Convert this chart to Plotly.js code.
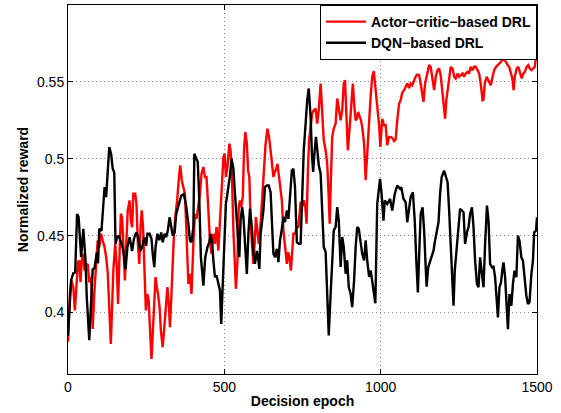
<!DOCTYPE html>
<html>
<head>
<meta charset="utf-8">
<script src="https://cdn.plot.ly/plotly-3.0.1.min.js"></script>
<style>html,body{margin:0;padding:0;background:#fff;}#chart{width:561px;height:413px;}</style>
</head>
<body>
<div id="chart"></div>
<script>
// Actor-critic-based DRL series
const epochAC = [0,6,11,17,22,28,32,36,40,44,49,53,58,63,68,74,79,84,90,95,100,106,111,117,122,127,132,137,141,145,151,156,160,164,169,173,177,182,186,191,197,201,205,209,215,219,223,228,232,236,240,245,249,254,258,263,267,271,276,280,284,288,293,297,303,309,314,318,323,326,330,334,339,344,349,355,359,364,370,374,379,385,390,395,401,406,411,417,422,427,433,438,443,449,454,459,465,470,475,481,486,491,497,501,505,510,516,520,525,529,533,537,542,546,550,554,559,563,567,572,576,580,584,589,593,597,601,606,610,614,619,623,627,632,638,643,648,653,657,661,666,670,674,678,684,689,694,700,704,708,713,717,721,726,732,737,744,749,754,759,763,767,771,776,781,786,792,797,802,808,813,818,824,829,833,837,841,845,850,856,861,866,872,877,882,886,890,895,901,906,911,916,920,924,928,933,937,941,947,952,957,963,968,973,978,984,989,995,999,1005,1011,1016,1021,1027,1032,1037,1043,1048,1053,1059,1064,1069,1075,1080,1085,1091,1096,1101,1107,1112,1117,1123,1128,1134,1137,1142,1150,1155,1160,1166,1171,1176,1182,1187,1192,1198,1203,1206,1210,1217,1224,1230,1235,1240,1246,1251,1256,1262,1267,1272,1278,1283,1288,1294,1299,1304,1310,1315,1320,1326,1329,1333,1339,1344,1348,1352,1358,1363,1369,1374,1379,1385,1390,1395,1401,1406,1411,1417,1422,1425,1429,1435,1440,1445,1451,1456,1461,1467,1472,1477,1483,1488,1493,1498,1500];
const rewardAC = [0.381,0.412,0.4208,0.4165,0.4013,0.4186,0.4327,0.4338,0.4197,0.4338,0.4382,0.4273,0.4306,0.4316,0.4197,0.423,0.3893,0.412,0.4338,0.4468,0.4425,0.4512,0.4468,0.4425,0.436,0.4262,0.4034,0.3796,0.4034,0.4273,0.4447,0.4295,0.4056,0.4316,0.4642,0.462,0.4403,0.4208,0.4425,0.4664,0.4729,0.4599,0.4555,0.4772,0.4772,0.4707,0.4468,0.4316,0.4555,0.4664,0.4555,0.4295,0.4013,0.412,0.4078,0.3861,0.3698,0.3861,0.4056,0.423,0.4165,0.412,0.4034,0.3882,0.3774,0.3948,0.4078,0.4165,0.4034,0.3904,0.4078,0.4338,0.4512,0.4642,0.4729,0.4881,0.4957,0.4859,0.4794,0.4772,0.4512,0.4186,0.4251,0.4121,0.4447,0.4642,0.4609,0.4685,0.4772,0.4902,0.4946,0.4881,0.4881,0.4664,0.4468,0.4382,0.4512,0.4447,0.4555,0.4403,0.4599,0.4794,0.5011,0.5033,0.4881,0.4946,0.5098,0.5054,0.4837,0.4533,0.4382,0.4154,0.4338,0.4685,0.4729,0.4685,0.475,0.5054,0.5174,0.5098,0.4924,0.4881,0.4577,0.4403,0.4316,0.4447,0.462,0.4533,0.4447,0.4512,0.4664,0.4816,0.4967,0.5098,0.5195,0.5141,0.5054,0.4946,0.4881,0.4913,0.4935,0.4967,0.4902,0.4816,0.4729,0.4533,0.4425,0.4316,0.4392,0.436,0.4273,0.4403,0.4512,0.4512,0.4555,0.4555,0.472,0.4686,0.473,0.4686,0.4578,0.4903,0.512,0.5207,0.5294,0.5316,0.5326,0.5229,0.5316,0.5489,0.5294,0.512,0.5055,0.4968,0.4795,0.4578,0.4882,0.5142,0.5196,0.5229,0.5392,0.5316,0.525,0.5316,0.5489,0.5511,0.5294,0.5055,0.5207,0.5337,0.5489,0.5337,0.525,0.526,0.5305,0.5272,0.525,0.5207,0.5099,0.486,0.5055,0.5294,0.541,0.5533,0.557,0.5446,0.5359,0.5218,0.5077,0.526,0.5218,0.5218,0.5088,0.5142,0.5142,0.5136,0.5115,0.5125,0.525,0.5359,0.5381,0.543,0.5446,0.5467,0.5489,0.546,0.5489,0.5478,0.5511,0.5535,0.5548,0.5545,0.5489,0.5381,0.537,0.5489,0.5576,0.5609,0.5598,0.5511,0.5446,0.5533,0.5576,0.5587,0.5543,0.5424,0.5337,0.5261,0.5381,0.5511,0.5598,0.5587,0.5533,0.5522,0.5554,0.5533,0.5543,0.5554,0.5533,0.5554,0.5565,0.5554,0.5598,0.5576,0.5598,0.5598,0.5576,0.5554,0.5489,0.5381,0.5385,0.5489,0.5533,0.5511,0.55,0.5478,0.5533,0.5576,0.5598,0.5609,0.562,0.563,0.5652,0.5641,0.563,0.5609,0.5598,0.5554,0.5511,0.5446,0.5533,0.5587,0.5598,0.5565,0.5522,0.5554,0.5565,0.5598,0.5609,0.5587,0.5576,0.5587,0.5598,0.5685,0.5696];

// DQN-based DRL series
const epochDQN = [0,10,17,23,29,34,42,49,56,60,68,74,79,85,92,96,100,107,113,117,122,127,132,138,143,148,152,156,162,170,177,184,190,197,205,211,218,224,231,237,244,250,254,261,267,271,276,280,286,292,298,303,309,314,319,325,330,335,341,346,355,362,370,377,385,390,395,401,404,409,415,420,425,433,439,446,452,456,461,465,470,475,481,486,490,495,500,505,512,518,523,529,534,540,545,548,552,557,561,566,572,577,582,588,593,598,604,609,612,616,621,625,630,636,642,648,653,657,662,668,673,678,684,689,694,700,705,710,716,721,726,732,738,744,749,754,760,765,770,776,780,784,789,793,797,802,808,813,818,824,829,834,840,845,850,856,861,866,872,877,882,888,893,898,904,909,915,920,925,930,936,941,947,952,957,963,968,973,979,983,989,998,1003,1009,1013,1021,1030,1037,1045,1053,1062,1066,1073,1080,1085,1091,1096,1103,1109,1114,1119,1124,1128,1134,1139,1144,1147,1152,1158,1163,1169,1173,1179,1185,1190,1195,1203,1208,1214,1219,1224,1230,1233,1237,1244,1249,1254,1260,1265,1270,1276,1281,1286,1292,1297,1302,1308,1313,1318,1324,1329,1334,1340,1345,1350,1356,1361,1366,1372,1375,1380,1385,1390,1393,1398,1403,1407,1412,1418,1423,1428,1434,1439,1444,1450,1455,1460,1466,1471,1476,1482,1487,1491,1497,1500];
const rewardDQN = [0.385,0.421,0.4256,0.426,0.464,0.462,0.436,0.4544,0.434,0.41,0.382,0.403,0.428,0.429,0.439,0.432,0.4544,0.453,0.473,0.4816,0.475,0.4946,0.5076,0.503,0.4935,0.491,0.4447,0.448,0.45,0.4457,0.44,0.428,0.4425,0.449,0.44,0.448,0.452,0.449,0.44,0.4425,0.449,0.4435,0.4512,0.4512,0.448,0.438,0.4295,0.4425,0.4512,0.447,0.452,0.4457,0.4512,0.449,0.453,0.462,0.4566,0.45,0.452,0.464,0.4707,0.476,0.477,0.4707,0.4577,0.4468,0.4457,0.4555,0.5033,0.501,0.4978,0.4729,0.436,0.4175,0.436,0.4425,0.4457,0.4512,0.4447,0.4338,0.423,0.424,0.4197,0.4143,0.3926,0.4165,0.4468,0.4707,0.4805,0.4892,0.5,0.4935,0.4772,0.4599,0.4468,0.436,0.4599,0.4685,0.462,0.4447,0.4251,0.4512,0.4675,0.4555,0.4382,0.4316,0.44,0.4338,0.4284,0.4512,0.4599,0.4664,0.4816,0.4826,0.4826,0.4783,0.4555,0.4382,0.436,0.4414,0.4327,0.4468,0.4544,0.462,0.4588,0.4664,0.4609,0.4729,0.4924,0.4935,0.4816,0.4457,0.4447,0.4448,0.4838,0.5055,0.5229,0.538,0.5457,0.5272,0.5033,0.4914,0.5055,0.5142,0.5066,0.4957,0.4903,0.4686,0.4426,0.4393,0.4122,0.385,0.4122,0.4317,0.4534,0.4556,0.4686,0.46,0.4296,0.4491,0.4426,0.4252,0.4339,0.4166,0.4122,0.4035,0.4209,0.4426,0.4556,0.4545,0.4469,0.4382,0.4339,0.4469,0.4339,0.4231,0.4274,0.4209,0.41,0.406,0.4706,0.4869,0.4771,0.4598,0.4728,0.4706,0.4739,0.4663,0.4771,0.4826,0.4804,0.4815,0.4739,0.4717,0.4587,0.4663,0.475,0.4782,0.4598,0.4337,0.4131,0.4424,0.4641,0.4684,0.4533,0.4294,0.4168,0.4294,0.4337,0.437,0.4402,0.4457,0.4533,0.4587,0.4771,0.488,0.4923,0.4891,0.4847,0.4663,0.4402,0.4142,0.4044,0.4272,0.4446,0.4598,0.4674,0.4663,0.4652,0.4446,0.4522,0.4554,0.4641,0.4684,0.4554,0.4337,0.4185,0.4164,0.4359,0.425,0.4164,0.4446,0.4695,0.4598,0.4316,0.4294,0.4298,0.4229,0.4077,0.3968,0.4164,0.4196,0.4294,0.4326,0.4229,0.4033,0.3892,0.412,0.4044,0.4185,0.4272,0.4229,0.45,0.4467,0.4359,0.4337,0.4229,0.4109,0.4055,0.4066,0.425,0.4337,0.4522,0.4533,0.462];

const xTicks = [0, 500, 1000, 1500];
const yTicks = [0.4, 0.45, 0.5, 0.55];
const seriesNames = ['Actor\u2212critic\u2212based DRL', 'DQN\u2212based DRL'];

const fontFam = '"Liberation Sans", Arial, Helvetica, sans-serif';

const traces = [
  {x: epochAC, y: rewardAC, type: 'scatter', mode: 'lines', name: seriesNames[0],
   line: {color: '#ff0000', width: 2.4}},
  {x: epochDQN, y: rewardDQN, type: 'scatter', mode: 'lines', name: seriesNames[1],
   line: {color: '#000000', width: 2.4}}
];

const axisCommon = {
  showline: true, linecolor: '#000', linewidth: 1, mirror: 'ticks',
  ticks: 'inside', ticklen: 5, tickcolor: '#000', tickwidth: 1,
  showgrid: true, gridcolor: '#8c8c8c', griddash: '1px,3px', gridwidth: 1,
  zeroline: false, tickfont: {family: fontFam, size: 14, color: '#000'}
};

const layout = {
  width: 561, height: 413,
  margin: {l: 68, r: 24, t: 5, b: 39},
  paper_bgcolor: '#fff', plot_bgcolor: '#fff',
  showlegend: true,
  xaxis: Object.assign({}, axisCommon, {
    range: [0, 1500], tickvals: xTicks, ticktext: xTicks.map(String),
    title: {text: '<b>Decision epoch</b>', font: {family: fontFam, size: 14, color: '#000'}, standoff: 2}
  }),
  yaxis: Object.assign({}, axisCommon, {
    range: [0.36, 0.6], tickvals: yTicks, ticktext: yTicks.map(String),
    title: {text: '<b>Normalized reward</b>', font: {family: fontFam, size: 14, color: '#000'}, standoff: 5}
  }),
  legend: {
    x: 1, xanchor: 'right', y: 1, yanchor: 'top',
    bgcolor: '#fff', bordercolor: '#000', borderwidth: 1,
    font: {family: fontFam, size: 14, color: '#000', weight: 'bold'},
    itemwidth: 40, tracegroupgap: 0
  }
};

Plotly.newPlot('chart', traces, layout, {displayModeBar: false, staticPlot: true});
</script>
</body>
</html>
